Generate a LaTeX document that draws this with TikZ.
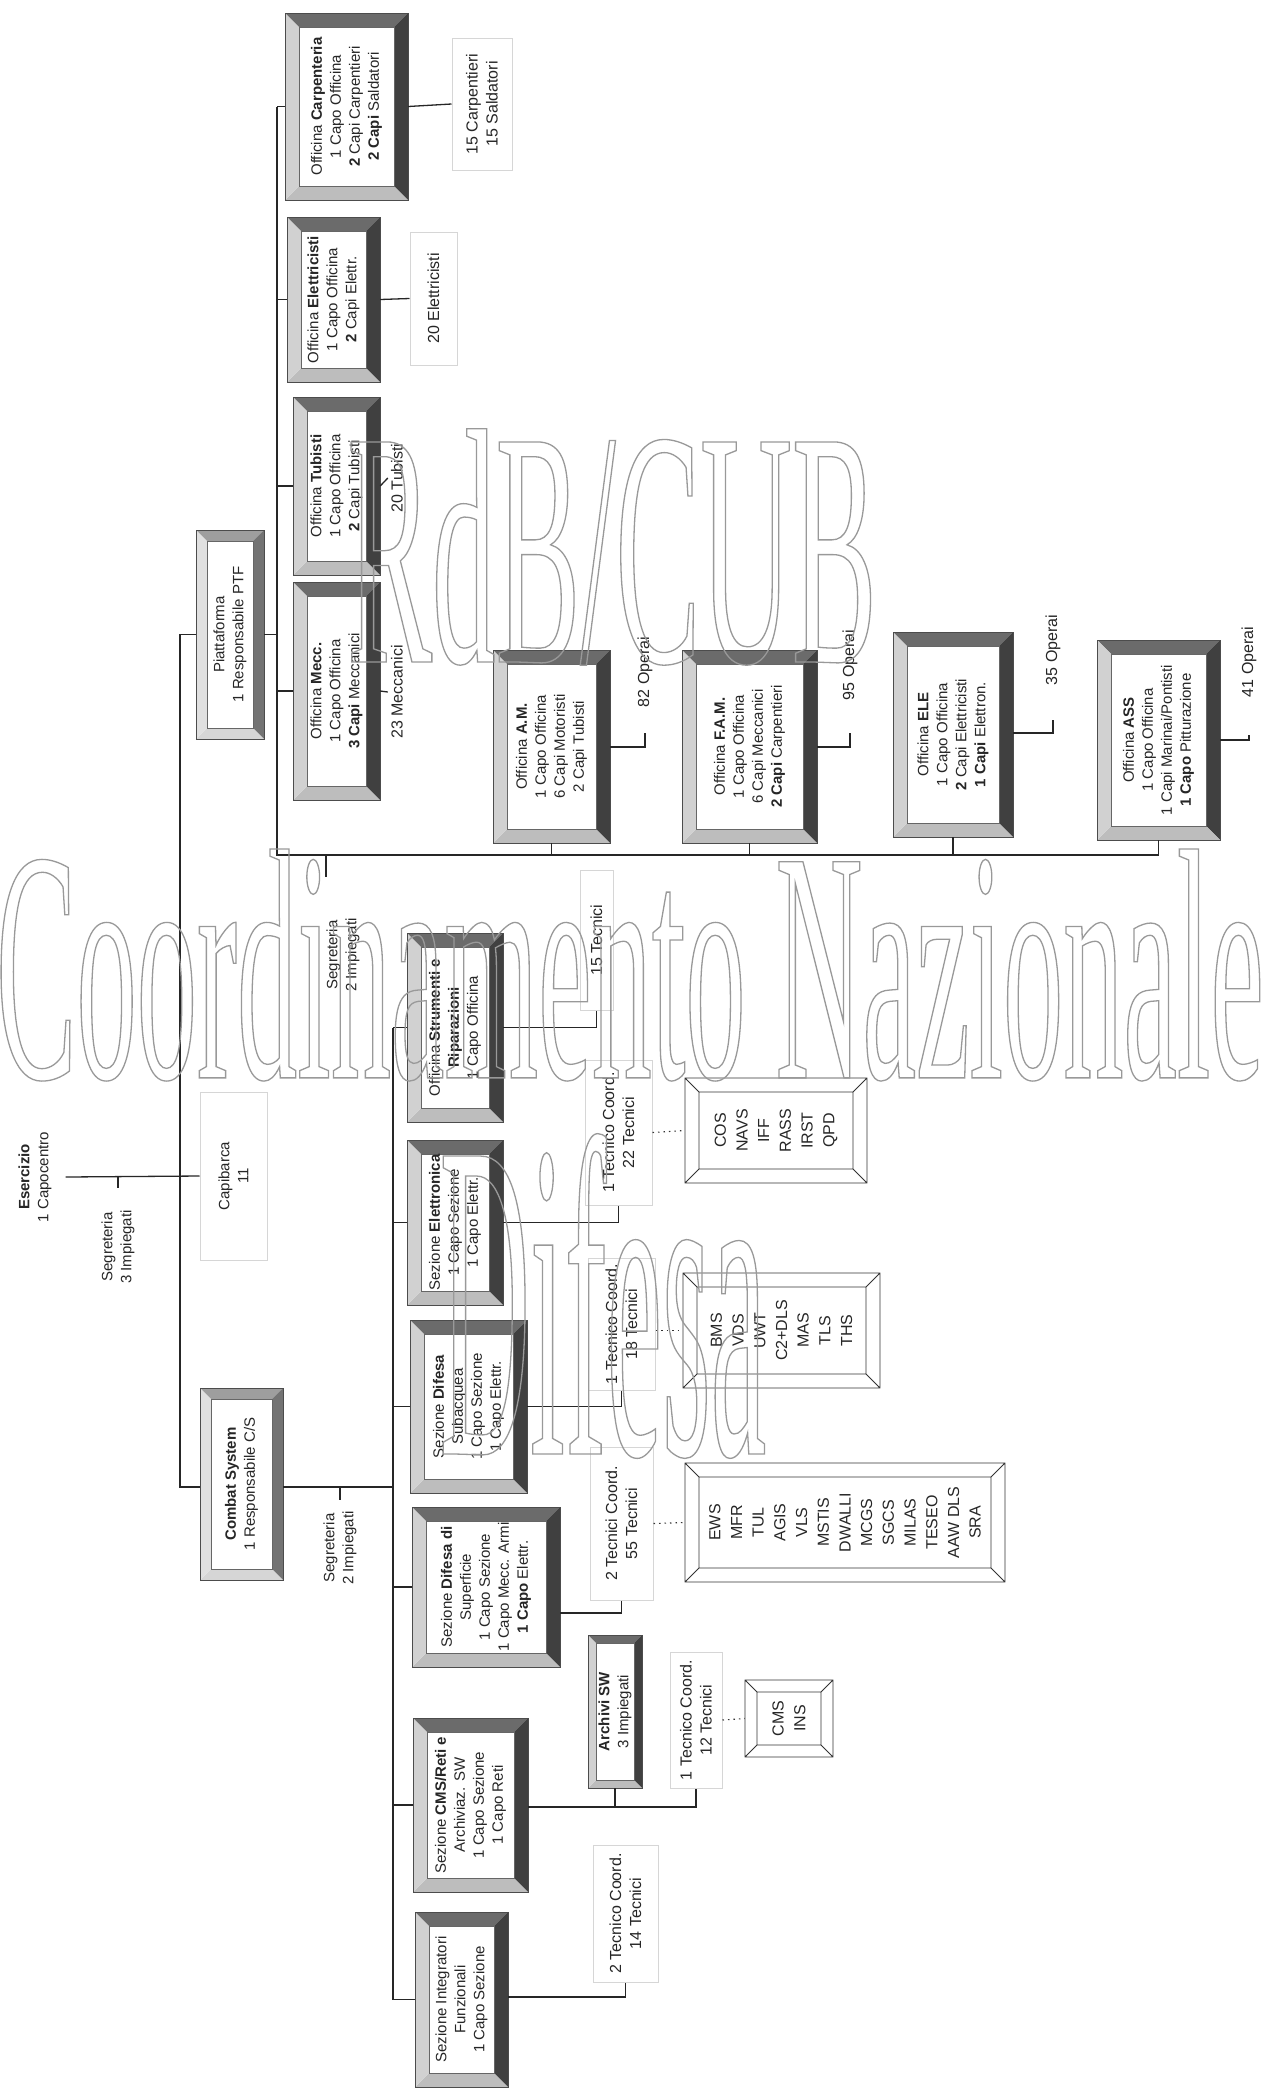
\documentclass[tikz,border=0pt]{standalone}
\usepackage{fontspec}
\usepackage{graphicx}
\setmainfont{Liberation Sans}
\newfontfamily\wmfA[FakeStretch=0.378]{Liberation Serif}
\newfontfamily\wmfB[FakeStretch=0.365]{Liberation Serif}
\newfontfamily\wmfC[FakeStretch=0.275]{Liberation Serif}
\usetikzlibrary{calc}
\def\bwd{14}
\def\swd{14}
\def\bvT{58}\def\bvR{75}\def\bvB{26}\def\bvL{18}
\newcommand\bevfr[6]{%
  \fill[black!\bvT] (#2,#3) -- (#4,#3) -- ({#4-\bwd},{#3+\bwd}) -- ({#2+\bwd},{#3+\bwd}) -- cycle;
  \fill[black!\bvR] (#4,#3) -- (#4,#5) -- ({#4-\bwd},{#5-\bwd}) -- ({#4-\bwd},{#3+\bwd}) -- cycle;
  \fill[black!\bvB] (#4,#5) -- (#2,#5) -- ({#2+\bwd},{#5-\bwd}) -- ({#4-\bwd},{#5-\bwd}) -- cycle;
  \fill[black!\bvL] (#2,#5) -- (#2,#3) -- ({#2+\bwd},{#3+\bwd}) -- ({#2+\bwd},{#5-\bwd}) -- cycle;
  \draw[black!70,line width=0.9pt] (#2,#3) rectangle (#4,#5);
  \draw[black!60,line width=0.7pt] ({#2+\bwd},{#3+\bwd}) rectangle ({#4-\bwd},{#5-\bwd});
  \node[boxtxt,minimum width={#5-#3},minimum height={#4-#2}] (#1) at ({(#2+#4)/2},{(#3+#5)/2}) {#6};
}
\newcommand\sysfr[6]{%
  \draw[sysl] (#2,#3) rectangle (#4,#5) ({#2+\swd},{#3+\swd}) rectangle ({#4-\swd},{#5-\swd})
    (#2,#3) -- ({#2+\swd},{#3+\swd}) (#4,#3) -- ({#4-\swd},{#3+\swd})
    (#4,#5) -- ({#4-\swd},{#5-\swd}) (#2,#5) -- ({#2+\swd},{#5-\swd});
  \node[systxt,minimum width={#5-#3},minimum height={#4-#2}] (#1) at ({(#2+#4)/2},{(#3+#5)/2}) {#6};
}
\newcommand\wmtext[1]{\special{pdf:code q 1 Tr 1.3 w 0.6 G}#1\special{pdf:code Q}}
\begin{document}
\begin{tikzpicture}[x=1pt,y=-1pt,
  ln/.style={line width=1.3pt,draw=black!85},
  dotl/.style={line width=1.1pt,draw=black!80,dash pattern=on 1.5pt off 4pt},
  boxtxt/.style={rotate=90,align=center,inner sep=0pt,font=\fontsize{15}{19}\selectfont,text=black!85},
  lbl/.style={rotate=90,align=center,inner sep=0pt,font=\fontsize{16}{20}\selectfont,text=black!85},
  faint/.style={draw=black!16,line width=1pt},
  systxt/.style={rotate=90,align=center,inner sep=0pt,font=\fontsize{16}{21.7}\selectfont,text=black!85},
  sysl/.style={line width=0.9pt,draw=black!80}]
\useasboundingbox (0,0) rectangle (1261,2089);
\fill[white] (0,0) rectangle (1261,2089);

% ---------- Esercizio / Capibarca ----------
\node[boxtxt] (eserc) at (35,1177) {\textbf{Esercizio}\\1 Capocentro};
\node[boxtxt] (segE) at (118,1247) {Segreteria\\3 Impiegati};
\node[boxtxt,faint,minimum width=168,minimum height=67] (capib) at (233.5,1176) {Capibarca\\11};
\draw[ln] ([xshift=14pt]eserc.south) -- (capib.north);
\draw[ln] (segE.east |- capib.north) -- ++(0,12);

% ---------- Piattaforma / Combat System ----------
\def\bwd{11}\def\bvT{38}\def\bvR{55}\def\bvB{16}\def\bvL{12}
\bevfr{piatt}{196}{530}{264}{739}{Piattaforma\\1 Responsabile PTF}
\bevfr{combat}{200}{1388}{283}{1580}{\textbf{Combat System}\\1 Responsabile C/S}
\def\bwd{14}\def\bvT{58}\def\bvR{75}\def\bvB{26}\def\bvL{18}

\draw[ln] (piatt.north) -- (180,634.5) -- (180,1487) -- (combat.north |- 0,1487);
\draw[ln] (combat.south |- 0,1487) -- (393,1487);
\node[boxtxt] (segC) at (340,1548) {Segreteria\\2 Impiegati};
\draw[ln] (segC.east |- 0,1487) -- ++(0,13);

% ---------- Piattaforma branch ----------
\bevfr{carp}{285}{13}{408}{200}{Officina \textbf{Carpenteria}\\1 Capo Officina\\\textbf{2} Capi Carpentieri\\\textbf{2 Capi} Saldatori}
\bevfr{elet}{287}{217}{380}{382}{Officina \textbf{Elettricisti}\\1 Capo Officina\\\textbf{2} Capi Elettr.}
\bevfr{tub}{293}{397}{380}{575}{Officina \textbf{Tubisti}\\1 Capo Officina\\\textbf{2} Capi Tubisti}
\bevfr{mec}{293}{582}{380}{800}{Officina \textbf{Mecc.}\\1 Capo Officina\\\textbf{3 Capi} Meccanici}

\node[lbl,faint,minimum width=132,minimum height=60] (lCarp) at (482,104) {15 Carpentieri\\15 Saldatori};
\node[lbl,faint,minimum width=133,minimum height=47] (lElet) at (433.5,298.5) {20 Elettricisti};
\node[lbl,minimum width=80,minimum height=18] (lTub) at (397,478) {20 Tubisti};
\node[lbl,minimum width=90,minimum height=18] (lMec) at (397,692) {23 Meccanici};

\draw[ln] (piatt.south) -- (277,634.5);
\draw[ln] (carp.north -| 277,0) -- (carp.north);
\draw[ln] (elet.north -| 277,0) -- (elet.north);
\draw[ln] (tub.north -| 277,0) -- (tub.north);
\draw[ln] (mec.north -| 277,0) -- (mec.north);
\draw[ln] (carp.south) -- (lCarp.north);
\draw[ln] (elet.south) -- (lElet.north);
\draw[ln] (tub.south) -- (lTub.north);
\draw[ln] (mec.south) -- (lMec.north);

\bevfr{am}{493}{650}{610}{843}{Officina \textbf{A.M.}\\1 Capo Officina\\6 Capi Motoristi\\2 Capi Tubisti}
\bevfr{fam}{682}{650}{817}{843}{Officina \textbf{F.A.M.}\\1 Capo Officina\\6 Capi Meccanici\\\textbf{2 Capi} Carpentieri}
\bevfr{ele}{893}{632}{1013}{837}{Officina \textbf{ELE}\\1 Capo Officina\\\textbf{2} Capi Elettricisti\\\textbf{1 Capi} Elettron.}
\bevfr{ass}{1097}{640}{1220}{840}{Officina \textbf{ASS}\\1 Capo Officina\\1 Capi Marinai/Pontisti\\\textbf{1 Capo} Pitturazione}

\draw[ln] (277,106.5) -- (277,855) -- (ass.west |- 0,855) -- (ass.west);
\draw[ln] (am.west) -- (am.west |- 0,855);
\draw[ln] (fam.west) -- (fam.west |- 0,855);
\draw[ln] (ele.west) -- (ele.west |- 0,855);

\node[lbl,minimum width=122,minimum height=46] (l82) at (645,672) {82 Operai};
\node[lbl,minimum width=136,minimum height=46] (l95) at (850,665) {95 Operai};
\node[lbl,minimum width=140,minimum height=46] (l35) at (1053,650) {35 Operai};
\node[lbl,minimum width=146,minimum height=20] (l41) at (1249,662) {41 Operai};
\draw[ln] (am.south |- 0,747) -| (l82.west);
\draw[ln] (fam.south |- 0,747) -| (l95.west);
\draw[ln] (ele.south |- 0,733) -| (l35.west);
\draw[ln] (ass.south |- 0,740) -| (l41.west);

\node[boxtxt] (segP) at (343,955) {Segreteria\\2 Impiegati};
\coordinate (segPt) at (326,855);
\draw[ln] (segPt) -- ++(0,22);

% ---------- Combat System branch ----------
\bevfr{strum}{407}{933}{503}{1122}{Officina \textbf{Strumenti e}\\\textbf{Riparazioni}\\1 Capo Officina}
\bevfr{elettr}{407}{1140}{503}{1305}{Sezione \textbf{Elettronica}\\1 Capo Sezione\\1 Capo Elettr.}
\bevfr{subac}{410}{1320}{527}{1493}{Sezione \textbf{Difesa}\\Subacquea\\1 Capo Sezione\\1 Capo Elettr.}
\bevfr{superf}{412}{1507}{560}{1667}{Sezione \textbf{Difesa di}\\Superficie\\1 Capo Sezione\\1 Capo Mecc. Armi\\\textbf{1 Capo} Elettr.}
\bevfr{cmsr}{413}{1718}{528}{1892}{Sezione \textbf{CMS/Reti e}\\Archiviaz. SW\\1 Capo Sezione\\1 Capo Reti}
\bevfr{integ}{415}{1912}{508}{2087}{Sezione Integratori\\Funzionali\\1 Capo Sezione}
\def\bwd{8}
\bevfr{archiv}{588}{1635}{642}{1788}{\textbf{Archivi SW}\\3 Impiegati}
\def\bwd{14}

\draw[ln] (strum.north -| 393,0) -- (integ.north -| 393,0);
\foreach \b in {strum,elettr,subac,superf,cmsr,integ} \draw[ln] (\b.north -| 393,0) -- (\b.north);

\node[lbl,faint,minimum width=140,minimum height=33] (l15) at (596.5,940) {15 Tecnici};
\node[lbl,faint,minimum width=145,minimum height=67] (l22) at (618.5,1132.5) {1 Tecnico Coord.\\22 Tecnici};
\node[lbl,faint,minimum width=132,minimum height=67] (l18) at (621.5,1324) {1 Tecnico Coord.\\18 Tecnici};
\node[lbl,faint,minimum width=153,minimum height=63] (l55) at (621.5,1523.5) {2 Tecnici Coord.\\55 Tecnici};
\node[lbl,faint,minimum width=136,minimum height=52] (l12) at (696,1720) {1 Tecnico Coord.\\12 Tecnici};
\node[lbl,faint,minimum width=137,minimum height=65] (l14) at (625.5,1913.5) {2 Tecnico Coord.\\14 Tecnici};

\draw[ln] (strum.south) -| (l15.west);
\draw[ln] (elettr.south) -| (l22.west);
\draw[ln] (subac.south) -| (l18.west);
\draw[ln] (superf.south |- 0,1613) -| (l55.west);
\draw[ln] (cmsr.south |- 0,1807) -| (l12.west);
\draw[ln] (archiv.west) -- (archiv.west |- 0,1807);
\draw[ln] (integ.south |- 0,1997) -| (l14.west);

\sysfr{cos}{685}{1078}{867}{1183}{COS\\NAVS\\IFF\\RASS\\IRST\\QPD}
\sysfr{bms}{683}{1273}{880}{1388}{BMS\\VDS\\UWT\\C2+DLS\\MAS\\TLS\\THS}
\sysfr{ews}{685}{1463}{1005}{1582}{EWS\\MFR\\TUL\\AGIS\\VLS\\MSTIS\\DWALLI\\MCGS\\SGCS\\MILAS\\TESEO\\AAW DLS\\SRA}
\def\swd{12}
\sysfr{cmsi}{745}{1680}{833}{1757}{CMS\\INS}

\draw[dotl] (l22.south) -- (cos.north);
\draw[dotl] (l18.south |- bms.north) -- (bms.north);
\draw[dotl] (l55.south) -- (ews.north);
\draw[dotl] (l12.south) -- (cmsi.north);

% ---------- watermark ----------
\node[inner sep=0pt] (wmA) at (612,547) {\wmtext{\wmfA\fontsize{336}{336}\selectfont RdB/CUB}};
\node[inner sep=0pt] (wmB) at (630,965) {\wmtext{\wmfB\fontsize{330}{330}\selectfont Coordinamento Nazionale}};
\node[inner sep=0pt] (wmC) at (603,1296) {\wmtext{\wmfC\fontsize{455}{455}\selectfont Difesa}};
\end{tikzpicture}
\end{document}
